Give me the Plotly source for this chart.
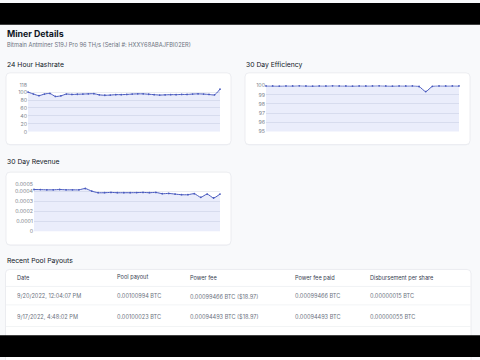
import plotly.graph_objects as go

W, H = 480, 360

# ---------------- data ----------------
hash_values = [100, 95, 91, 95, 96.5, 89, 90.5, 95, 94, 94.5, 95, 95.5, 96, 93, 92, 92.5,
               93.5, 93.5, 94, 95, 95.5, 95.5, 94.5, 93.5, 92.5, 93, 93.5, 93.5, 94, 94,
               95, 95.5, 95, 94, 93, 107.3]
eff_values = [99.97, 99.96, 99.95, 99.97, 99.96, 99.98, 99.96, 99.95, 99.97, 99.96,
              99.98, 99.97, 99.96, 99.95, 99.97, 99.96, 99.97, 99.98, 99.96, 99.95,
              99.97, 99.96, 99.97, 99.9, 99.35, 99.92, 99.97, 99.96, 99.97, 99.96]
rev_values = [0.000420, 0.000419, 0.000417, 0.000417, 0.000420, 0.000417, 0.000417, 0.000417,
              0.000430, 0.000404, 0.000388, 0.000388, 0.000391, 0.000388, 0.000388, 0.000388,
              0.000389, 0.000391, 0.000388, 0.000391, 0.000378, 0.000381, 0.000374, 0.000368,
              0.000368, 0.000378, 0.000342, 0.000374, 0.000335, 0.000374]

hash_ticks = [0, 20, 40, 60, 80, 100]
eff_ticks = [95, 96, 97, 98, 99, 100]
rev_ticks = [0, 0.0001, 0.0002, 0.0003, 0.0004]
rev_tick_text = ["0", "0.0001", "0.0002", "0.0003", "0.0004"]

page_title = "Miner Details"
page_subtitle = "Bitmain Antminer S19J Pro 96 TH/s (Serial #: HXXY68ABAJFBI02ER)"
section_titles = ["24 Hour Hashrate", "30 Day Efficiency", "30 Day Revenue", "Recent Pool Payouts"]

table_headers = ["Date", "Pool payout", "Power fee", "Power fee paid", "Disbursement per share"]
payout_dates = ["9/20/2022, 12:04:07 PM", "9/17/2022, 4:48:02 PM"]
pool_payouts = ["0.00100994 BTC", "0.00100023 BTC"]
power_fees = ["0.00099466 BTC ($18.97)", "0.00094493 BTC ($18.97)"]
power_fees_paid = ["0.00099466 BTC", "0.00094493 BTC"]
disbursements = ["0.00000015 BTC", "0.00000055 BTC"]

# ---------------- helpers ----------------
def fx(x):
    return x / W

def fy(y):
    return 1 - y / H

def rrect(x0, y0, x1, y1, r=4):
    rx, ry = r / W, r / H
    X0, X1 = fx(x0), fx(x1)
    Y0, Y1 = fy(y0), fy(y1)
    return (f"M {X0+rx},{Y0} L {X1-rx},{Y0} Q {X1},{Y0} {X1},{Y0-ry} "
            f"L {X1},{Y1+ry} Q {X1},{Y1} {X1-rx},{Y1} L {X0+rx},{Y1} "
            f"Q {X0},{Y1} {X0},{Y1+ry} L {X0},{Y0-ry} Q {X0},{Y0} {X0+rx},{Y0} Z")

LINE = "#4a5bbf"
FILL = "rgba(96,116,226,0.13)"
FONT = "Inter, Roboto, sans-serif"

fig = go.Figure()

def add_series(vals, xa, ya):
    fig.add_trace(go.Scatter(
        x=list(range(len(vals))), y=vals, xaxis=xa, yaxis=ya,
        mode="lines+markers", line=dict(color=LINE, width=1, shape="spline", smoothing=0.6),
        marker=dict(size=1.8, color=LINE), fill="tozeroy", fillcolor=FILL,
        cliponaxis=False, showlegend=False, hoverinfo="skip"))

add_series(hash_values, "x", "y")
add_series(eff_values, "x2", "y2")
add_series(rev_values, "x3", "y3")

hash_top = round(max(hash_values) * 1.1)
rev_top = max(rev_values) * 1.1

yax_common = dict(showline=False, zeroline=False, gridcolor="#eaecf1", gridwidth=0.7,
                  tickfont=dict(size=5.3, color="#80868f", family=FONT), ticks="",
                  fixedrange=True)
xax_common = dict(visible=False, fixedrange=True)

fig.update_layout(
    width=W, height=H, margin=dict(l=0, r=0, t=0, b=0),
    paper_bgcolor="#f8f9fb", plot_bgcolor="rgba(0,0,0,0)",
    xaxis=dict(domain=[fx(28), fx(220)], range=[0, len(hash_values) - 1], **xax_common),
    yaxis=dict(domain=[fy(131), fy(83.3)], range=[0, hash_top],
               tickvals=hash_ticks + [hash_top], ticktext=[str(v) for v in hash_ticks] + [str(hash_top)],
               **yax_common),
    xaxis2=dict(domain=[fx(266), fx(459)], range=[0, len(eff_values) - 1], anchor="y2", **xax_common),
    yaxis2=dict(domain=[fy(130.7), fy(84)], range=[95, 100], anchor="x2",
                tickvals=eff_ticks, ticktext=[str(v) for v in eff_ticks], **yax_common),
    xaxis3=dict(domain=[fx(34), fx(220)], range=[0, len(rev_values) - 1], anchor="y3", **xax_common),
    yaxis3=dict(domain=[fy(232.3), fy(184.3)], range=[0, rev_top], anchor="x3",
                tickvals=rev_ticks + [rev_top], ticktext=rev_tick_text + [f"{rev_top:.4f}"],
                **yax_common),
)

shapes = []
for (x0, y0, x1, y1) in [(6, 71, 231, 144), (245, 71, 470, 144), (6, 172, 231, 246), (5.5, 271, 471, 372)]:
    shapes.append(dict(type="path", path=rrect(x0, y0 + 0.6, x1, y1 + 0.6), xref="paper", yref="paper",
                       fillcolor="#eceef2", line=dict(width=0), layer="below"))
    shapes.append(dict(type="path", path=rrect(x0, y0, x1, y1), xref="paper", yref="paper",
                       fillcolor="#ffffff", line=dict(color="#e7e9ee", width=0.8), layer="below"))
for yy in [288.3, 307, 329]:
    shapes.append(dict(type="line", xref="paper", yref="paper", x0=fx(6), x1=fx(470.5),
                       y0=fy(yy), y1=fy(yy), line=dict(color="#eef0f3", width=0.8), layer="below"))
shapes.append(dict(type="rect", xref="paper", yref="paper", x0=0, x1=1, y0=fy(22), y1=1,
                   fillcolor="#000000", line=dict(width=0), layer="above"))
shapes.append(dict(type="rect", xref="paper", yref="paper", x0=0, x1=1, y0=0, y1=fy(338),
                   fillcolor="#000000", line=dict(width=0), layer="above"))
fig.update_layout(shapes=shapes)

ann = []
def text(x, y, s, size, color, bold=False):
    ann.append(dict(x=fx(x), y=fy(y), xref="paper", yref="paper", text=f"<b>{s}</b>" if bold else s,
                    showarrow=False, xanchor="left", yanchor="middle",
                    font=dict(size=size, color=color, family=FONT)))

text(5, 31, page_title, 8.8, "#111827", bold=True)
text(5, 42.5, page_subtitle, 5.7, "#6b7280")
text(5, 62.3, section_titles[0], 6.8, "#111827")
text(243.5, 62.3, section_titles[1], 6.8, "#111827")
text(5, 161, section_titles[2], 6.8, "#111827")
text(5, 262.3, section_titles[3], 6.8, "#111827")

col_x = [15, 114.7, 187.7, 293.3, 367.7]
for cx, h in zip(col_x, table_headers):
    text(cx, 279.3, h, 5.6, "#374151")
row_y = [298.3, 319]
for i, ry in enumerate(row_y):
    for cx, val in zip(col_x, [payout_dates[i], pool_payouts[i], power_fees[i],
                               power_fees_paid[i], disbursements[i]]):
        text(cx, ry, val, 5.6, "#6b7280")

fig.update_layout(annotations=ann)
fig.write_html("out.html", config={"displayModeBar": False},
               post_script="document.body.style.margin='0';document.body.style.overflow='hidden';")
